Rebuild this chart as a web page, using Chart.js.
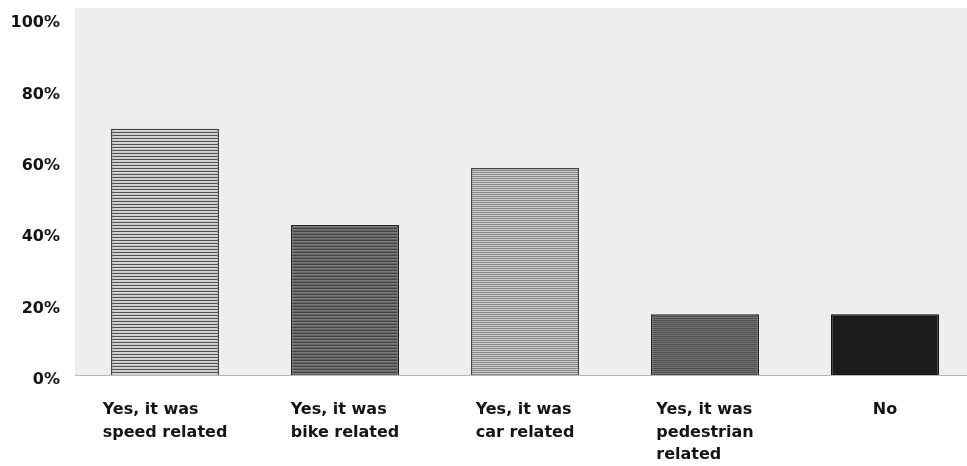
<!DOCTYPE html>
<html>
<head>
<meta charset="utf-8">
<script src="https://cdn.jsdelivr.net/npm/chart.js@4/dist/chart.umd.min.js"></script>
<style>
  html, body { margin: 0; padding: 0; background: #ffffff; overflow: hidden; }
  #wrap { width: 975px; height: 466px; position: relative; }
</style>
</head>
<body>
<div id="wrap"><canvas id="c"></canvas></div>
<script>
// ---- data ----
const categories = [
  ["Yes, it was", "speed related"],
  ["Yes, it was", "bike related"],
  ["Yes, it was", "car related"],
  ["Yes, it was", "pedestrian", "related"],
  ["No"]
];
const values = [69, 42, 58, 17, 17];
const yTickValues = [0, 20, 40, 60, 80, 100];

// ---- fills ----
function stripes(rows, w) {
  const c = document.createElement('canvas');
  c.width = w || 4; c.height = rows.length;
  const g = c.getContext('2d');
  rows.forEach((col, i) => { g.fillStyle = col; g.fillRect(0, i, c.width, 1); });
  return g.createPattern(c, 'repeat');
}
const fills = [
  stripes(['#505050', '#d6d6d6', '#cdcdcd']),
  stripes(['#444444', '#7a7a7a', '#666666']),
  stripes(['#858585', '#cfcfcf']),
  stripes(['#505050', '#717171']),
  '#1c1c1c'
];
const borders = ['#444444', '#222222', '#444444', '#222222', '#111111'];

const FONT = 'bold 16px "DejaVu Sans", "Liberation Sans", Arial, sans-serif';

const bgPlugin = {
  id: 'plotBg',
  beforeDraw(chart) {
    const { ctx, chartArea } = chart;
    ctx.save();
    ctx.fillStyle = '#eeeeee';
    ctx.fillRect(chartArea.left, 8, chartArea.right - chartArea.left, chartArea.bottom - 8);
    ctx.strokeStyle = '#b5b5b5';
    ctx.lineWidth = 1;
    ctx.beginPath();
    ctx.moveTo(chartArea.left, chartArea.bottom + 0.5);
    ctx.lineTo(chartArea.right, chartArea.bottom + 0.5);
    ctx.stroke();
    ctx.restore();
  }
};

const xLabelPlugin = {
  id: 'xLabels',
  afterDraw(chart) {
    const { ctx, chartArea } = chart;
    const xs = chart.scales.x;
    ctx.save();
    ctx.font = FONT;
    ctx.fillStyle = '#141414';
    ctx.textAlign = 'left';
    ctx.textBaseline = 'middle';
    categories.forEach((lines, i) => {
      const cx = xs.getPixelForTick(i);
      const w = Math.max(...lines.map(l => ctx.measureText(l).width));
      const left = cx - w / 2;
      lines.forEach((l, j) => ctx.fillText(l, left, chartArea.bottom + 35 + j * 22.5));
    });
    ctx.restore();
  }
};

new Chart(document.getElementById('c'), {
  type: 'bar',
  data: {
    labels: categories,
    datasets: [{
      data: values,
      backgroundColor: fills,
      borderColor: borders,
      borderWidth: 1.5,
      borderSkipped: 'bottom',
      barPercentage: 0.6,
      categoryPercentage: 1.0
    }]
  },
  options: {
    responsive: true,
    maintainAspectRatio: false,
    animation: false,
    layout: { padding: { top: 18, left: 3, right: 0, bottom: 91 } },
    plugins: { legend: { display: false }, tooltip: { enabled: false } },
    scales: {
      x: {
        grid: { display: false, drawTicks: false, tickLength: 0 },
        border: { display: false },
        ticks: { display: false }
      },
      y: {
        min: 0, max: 100,
        afterFit(s) { s.width = 72; s.paddingTop = 0; s.paddingBottom = 0; },
        afterBuildTicks(s) { s.ticks = yTickValues.map(v => ({ value: v })); },
        grid: { display: false, drawTicks: false, tickLength: 0 },
        border: { display: false },
        ticks: {
          padding: 15,
          labelOffset: 5,
          color: '#141414',
          font: { family: '"DejaVu Sans", "Liberation Sans", Arial, sans-serif', size: 16, weight: 'bold' },
          callback: v => v + '%'
        }
      }
    }
  },
  plugins: [bgPlugin, xLabelPlugin]
});
</script>
</body>
</html>
